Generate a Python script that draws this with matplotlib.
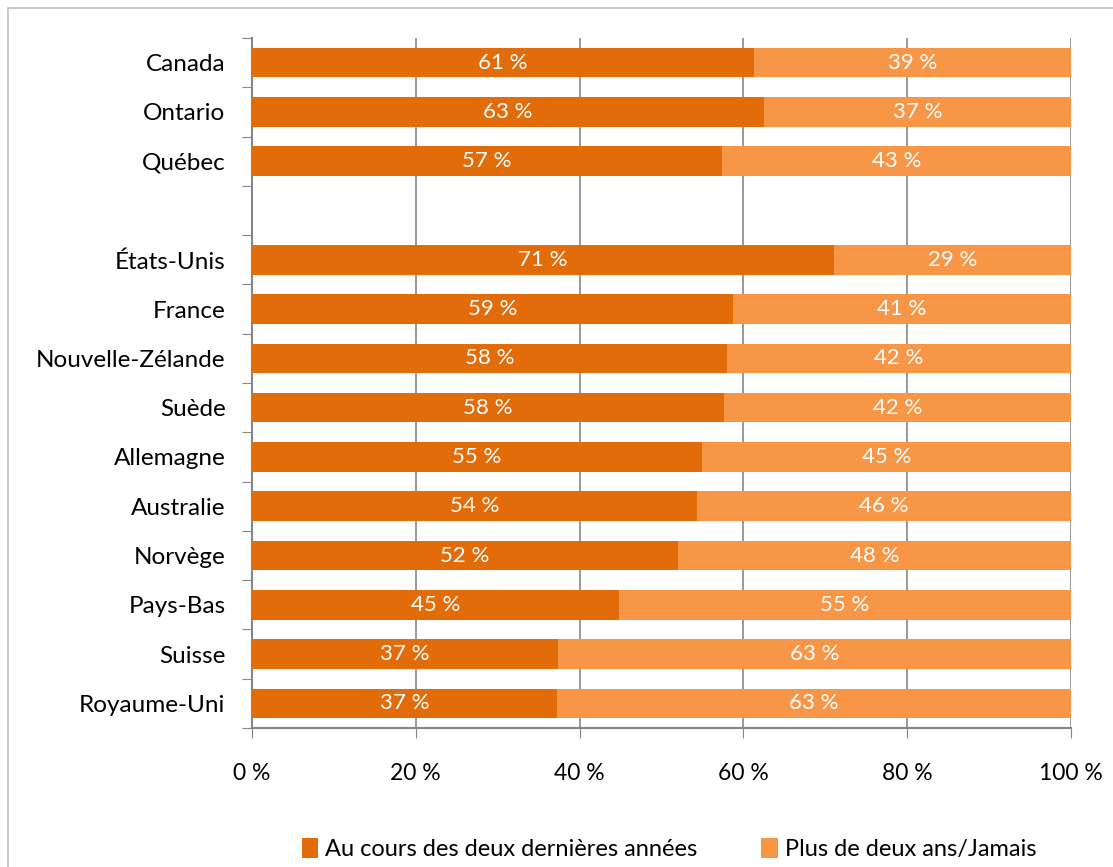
import matplotlib.pyplot as plt
import numpy as np

# data (blank entry = empty gap row)
countries = ["Canada", "Ontario", "Québec", "", "États-Unis", "France", "Nouvelle-Zélande",
             "Suède", "Allemagne", "Australie", "Norvège", "Pays-Bas", "Suisse", "Royaume-Uni"]
recent = [61.3, 62.5, 57.4, np.nan, 71.1, 58.7, 58.0, 57.6, 54.9, 54.3, 52.0, 44.8, 37.4, 37.2]
older = [38.7, 37.5, 42.6, np.nan, 28.9, 41.3, 42.0, 42.4, 45.1, 45.7, 48.0, 55.2, 62.6, 62.8]
recent_labels = ["61 %", "63 %", "57 %", "", "71 %", "59 %", "58 %", "58 %", "55 %", "54 %", "52 %", "45 %", "37 %", "37 %"]
older_labels = ["39 %", "37 %", "43 %", "", "29 %", "41 %", "42 %", "42 %", "45 %", "46 %", "48 %", "55 %", "63 %", "63 %"]

series_names = ["Au cours des deux dernières années", "Plus de deux ans/Jamais"]
dark = "#E36C0A"
light = "#F79646"
gray = "#868686"

plt.rcParams['font.family'] = ['Lato', 'DejaVu Sans']

fig = plt.figure(figsize=(11.13, 8.67), dpi=100)
ax = fig.add_axes([252/1113, 1 - 728/867, (1071-252)/1113, (728-38)/867])

y = np.arange(len(countries))
rec = np.array(recent)
old = np.array(older)
b1 = ax.barh(y, rec, height=0.6, color=dark, label=series_names[0], zorder=3)
b2 = ax.barh(y, old, left=rec, height=0.6, color=light, label=series_names[1], zorder=3)

for i in range(len(countries)):
    if recent_labels[i]:
        ax.text(rec[i] / 2, y[i], recent_labels[i], ha="center", va="center",
                color="white", fontsize=16, zorder=4)
        ax.text(rec[i] + old[i] / 2, y[i], older_labels[i], ha="center", va="center",
                color="white", fontsize=16, zorder=4)

ax.set_xlim(0, 100)
ax.set_ylim(len(countries) - 0.5, -0.5)

# category labels at centres, tick marks at boundaries
ax.set_yticks(np.arange(-0.5, len(countries)), labels=[])
ax.set_yticks(y, labels=countries, minor=True)
ax.tick_params(axis="y", which="major", length=7, color=gray, direction="out")
ax.tick_params(axis="y", which="minor", length=0, labelsize=17.5, pad=19)

ax.set_xticks([0, 20, 40, 60, 80, 100], labels=["0 %", "20 %", "40 %", "60 %", "80 %", "100 %"])
ax.tick_params(axis="x", length=7, color=gray, labelsize=16.5, pad=18)
ax.grid(axis="x", color=gray, linewidth=1.2, zorder=0)

for s in ["top", "right"]:
    ax.spines[s].set_visible(False)
for s in ["left", "bottom"]:
    ax.spines[s].set_color(gray)
    ax.spines[s].set_linewidth(1.5)

fig.legend(handles=[b1, b2], loc="center", bbox_to_anchor=(0.601, 1 - 849/867), ncol=2,
           frameon=False, fontsize=17, handlelength=0.7, handleheight=0.9,
           handletextpad=0.3, columnspacing=2.7)

# outer chart frame
fig.add_artist(plt.Rectangle((8/1113, -0.01), 1.1, 1 - 8/867 + 0.01, transform=fig.transFigure,
                             fill=False, edgecolor="#BFBFBF", linewidth=1.2))

fig.savefig("out.png", dpi=100)
